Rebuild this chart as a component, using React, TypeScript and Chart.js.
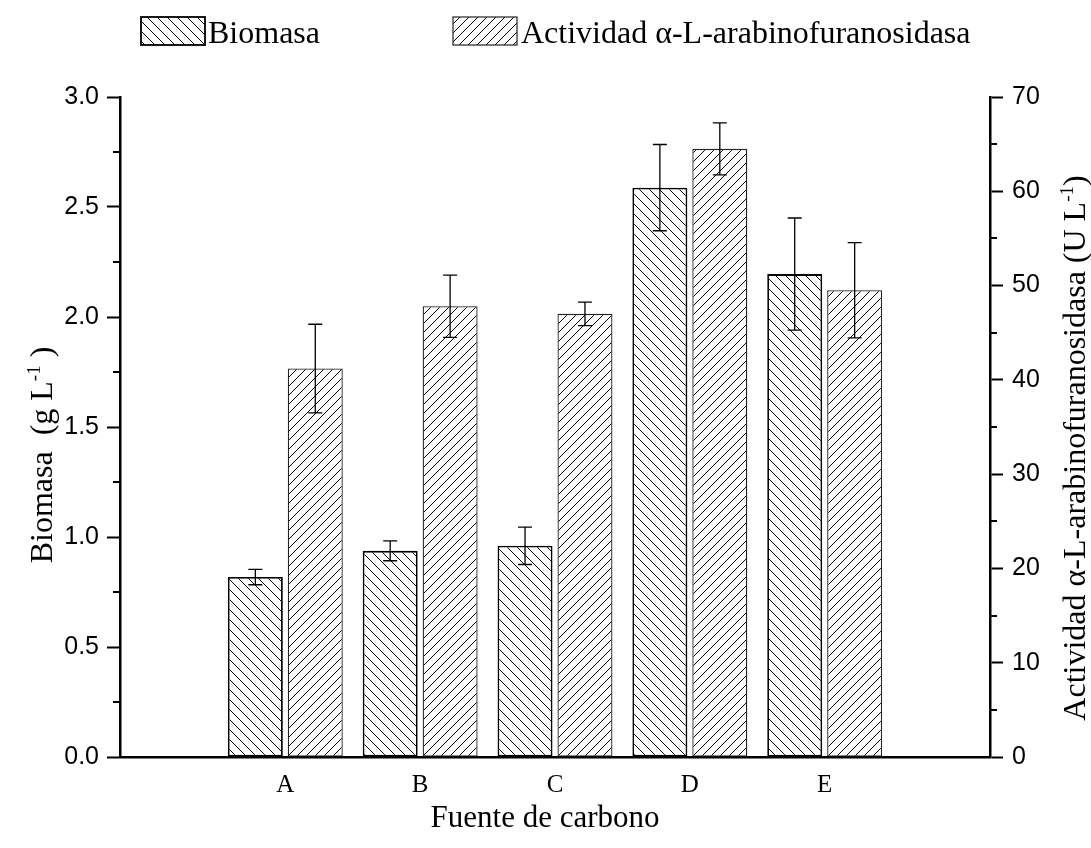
import { useEffect, useRef } from "react";
import { Chart, registerables } from "chart.js";

Chart.register(...registerables);

const categories = ["A", "B", "C", "D", "E"];
const biomasa = [0.818, 0.937, 0.96, 2.588, 2.195];
const biomasaErr = [0.035, 0.045, 0.085, 0.196, 0.255];
const actividad = [41.2, 47.8, 47.0, 64.5, 49.5];
const actividadErr = [4.7, 3.3, 1.25, 2.75, 5.05];
const leftMinorTicks = [0.25, 0.75, 1.25, 1.75, 2.25, 2.75];
const rightMinorTicks = [5, 15, 25, 35, 45, 55, 65];

const SERIF = "'Liberation Serif', 'Times New Roman', serif";
const SANS = "'Liberation Sans', Arial, sans-serif";

function makeHatch(dir: "back" | "fwd", size: number, lw: number) {
  const c = document.createElement("canvas");
  c.width = size;
  c.height = size;
  const g = c.getContext("2d")!;
  g.fillStyle = "#fff";
  g.fillRect(0, 0, size, size);
  g.strokeStyle = "#000";
  g.lineWidth = lw;
  g.beginPath();
  if (dir === "back") {
    g.moveTo(-2, -2);
    g.lineTo(size + 2, size + 2);
    g.moveTo(-2, size - 2);
    g.lineTo(2, size + 2);
    g.moveTo(size - 2, -2);
    g.lineTo(size + 2, 2);
  } else {
    g.moveTo(-2, size + 2);
    g.lineTo(size + 2, -2);
    g.moveTo(-2, 2);
    g.lineTo(2, -2);
    g.moveTo(size - 2, size + 2);
    g.lineTo(size + 2, size - 2);
  }
  g.stroke();
  return g.createPattern(c, "repeat")!;
}

type Piece = { t: string; sup?: boolean };

function drawRich(ctx: CanvasRenderingContext2D, pieces: Piece[], size: number) {
  const supSize = Math.round(size * 0.6);
  let total = 0;
  const widths = pieces.map((p) => {
    ctx.font = `${p.sup ? supSize : size}px ${SERIF}`;
    const w = ctx.measureText(p.t).width;
    total += w;
    return w;
  });
  let x = -total / 2;
  pieces.forEach((p, i) => {
    ctx.font = `${p.sup ? supSize : size}px ${SERIF}`;
    ctx.textBaseline = "alphabetic";
    ctx.textAlign = "left";
    ctx.fillText(p.t, x, p.sup ? -size * 0.38 : 0);
    x += widths[i];
  });
}

export default function App() {
  const ref = useRef<HTMLCanvasElement>(null);

  useEffect(() => {
    document.body.style.margin = "0";
    const canvas = ref.current!;
    const ctx0 = canvas.getContext("2d")!;
    const patBio = makeHatch("back", 10, 1);
    const patAct = makeHatch("fwd", 9, 1);

    const overlay = {
      id: "overlay",
      afterDatasetsDraw(chart: any) {
        const ctx = chart.ctx as CanvasRenderingContext2D;
        ctx.save();
        ctx.strokeStyle = "#000";
        ctx.lineWidth = 1.3;
        chart.data.datasets.forEach((ds: any, i: number) => {
          const meta = chart.getDatasetMeta(i);
          const yScale = chart.scales[ds.yAxisID];
          const errs = ds.errors as number[];
          meta.data.forEach((el: any, j: number) => {
            const v = ds.data[j].y;
            const top = yScale.getPixelForValue(v + errs[j]);
            const bot = yScale.getPixelForValue(v - errs[j]);
            const x = el.x;
            ctx.beginPath();
            ctx.moveTo(x, top);
            ctx.lineTo(x, bot);
            ctx.moveTo(x - 7, top);
            ctx.lineTo(x + 7, top);
            ctx.moveTo(x - 7, bot);
            ctx.lineTo(x + 7, bot);
            ctx.stroke();
          });
        });
        ctx.restore();
      },
      afterDraw(chart: any) {
        const ctx = chart.ctx as CanvasRenderingContext2D;
        const area = chart.chartArea;
        const yL = chart.scales.y;
        const yR = chart.scales.y1;
        ctx.save();
        ctx.strokeStyle = "#000";
        ctx.lineWidth = 2;
        ctx.beginPath();
        leftMinorTicks.forEach((v) => {
          const p = Math.round(yL.getPixelForValue(v));
          ctx.moveTo(area.left - 7, p);
          ctx.lineTo(area.left, p);
        });
        rightMinorTicks.forEach((v) => {
          const p = Math.round(yR.getPixelForValue(v));
          ctx.moveTo(area.right, p);
          ctx.lineTo(area.right + 7, p);
        });
        ctx.stroke();

        ctx.fillStyle = "#000";
        // left title
        ctx.save();
        ctx.translate(52, 455);
        ctx.rotate(-Math.PI / 2);
        drawRich(ctx, [{ t: "Biomasa  (g L" }, { t: "-1", sup: true }, { t: " )" }], 32);
        ctx.restore();
        // right title
        ctx.save();
        ctx.translate(1085, 448);
        ctx.rotate(-Math.PI / 2);
        drawRich(
          ctx,
          [{ t: "Actividad \u03b1-L-arabinofuranosidasa (U L" }, { t: "-1", sup: true }, { t: ")" }],
          32
        );
        ctx.restore();
        // x title
        ctx.save();
        ctx.translate(545, 827);
        drawRich(ctx, [{ t: "Fuente de carbono" }], 31);
        ctx.restore();

        // legend
        const drawBox = (x: number, pat: CanvasPattern, lw: number, color: string) => {
          ctx.fillStyle = pat;
          ctx.fillRect(x, 17, 64, 28);
          ctx.strokeStyle = color;
          ctx.lineWidth = lw;
          ctx.strokeRect(x, 17, 64, 28);
        };
        drawBox(141, patBio, 1.8, "#000");
        drawBox(453, patAct, 1.3, "#333");
        ctx.fillStyle = "#000";
        ctx.font = `32px ${SERIF}`;
        ctx.textAlign = "left";
        ctx.textBaseline = "alphabetic";
        ctx.fillText("Biomasa", 208, 43);
        ctx.fillText("Actividad \u03b1-L-arabinofuranosidasa", 521, 43);
        ctx.restore();
      },
    };

    const chart = new Chart(ctx0, {
      type: "bar",
      data: {
        datasets: [
          {
            label: "Biomasa",
            data: biomasa.map((v, i) => ({ x: i, y: v })),
            errors: biomasaErr,
            yAxisID: "y",
            backgroundColor: patBio,
            borderColor: "#000",
            borderWidth: 1.8,
            borderSkipped: false,
            categoryPercentage: 0.889,
            barPercentage: 0.917,
          } as any,
          {
            label: "Actividad \u03b1-L-arabinofuranosidasa",
            data: actividad.map((v, i) => ({ x: i, y: v })),
            errors: actividadErr,
            yAxisID: "y1",
            backgroundColor: patAct,
            borderColor: "#222",
            borderWidth: 1.3,
            borderSkipped: false,
            categoryPercentage: 0.889,
            barPercentage: 0.917,
          } as any,
        ],
      },
      options: {
        responsive: false,
        animation: false,
        devicePixelRatio: 1,
        layout: { padding: { top: 97, left: 0, right: 0, bottom: 0 } },
        plugins: { legend: { display: false }, tooltip: { enabled: false } },
        scales: {
          x: {
            type: "linear",
            offset: false,
            min: -1.226,
            max: 5.226,
            grid: { display: false, offset: false },
            border: { display: true, width: 2.5, color: "#000" },
            afterBuildTicks: (s: any) => {
              s.ticks = categories.map((_, i) => ({ value: i }));
            },
            ticks: {
              color: "#000",
              font: { family: SERIF, size: 25 },
              padding: 5,
              callback: (v: any) => categories[v as number] ?? "",
            },
            afterFit: (s: any) => {
              s.height = 91;
            },
          },
          y: {
            position: "left",
            min: 0,
            max: 3,
            grid: {
              drawOnChartArea: false,
              drawTicks: true,
              tickLength: 13,
              tickWidth: 2,
              tickColor: "#000",
            },
            border: { display: true, width: 2.5, color: "#000" },
            ticks: {
              stepSize: 0.5,
              color: "#000",
              font: { family: SANS, size: 25 },
              padding: 8,
              callback: (v: any) => Number(v).toFixed(1),
            },
            afterFit: (s: any) => {
              s.width = 120;
            },
          },
          y1: {
            position: "right",
            min: 0,
            max: 70,
            grid: {
              drawOnChartArea: false,
              drawTicks: true,
              tickLength: 13,
              tickWidth: 2,
              tickColor: "#000",
            },
            border: { display: true, width: 2.5, color: "#000" },
            ticks: {
              stepSize: 10,
              color: "#000",
              font: { family: SANS, size: 25 },
              padding: 9,
            },
            afterFit: (s: any) => {
              s.width = 101;
            },
          },
        },
      } as any,
      plugins: [overlay],
    });
    return () => chart.destroy();
  }, []);

  return (
    <div style={{ width: 1091, height: 848 }}>
      <canvas ref={ref} width={1091} height={848} style={{ display: "block", width: 1091, height: 848 }} />
    </div>
  );
}
